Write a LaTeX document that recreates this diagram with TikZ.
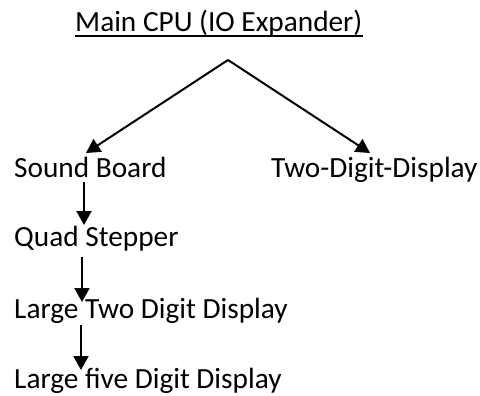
\documentclass[tikz,border=0pt]{standalone}
\usepackage{fontspec}
\setmainfont{Carlito}
\usetikzlibrary{arrows.meta,calc}
\begin{document}
\begin{tikzpicture}[x=1pt,y=-1pt,
  lbl/.style={anchor=base west,inner sep=0pt,font=\fontsize{29.3}{34}\selectfont},
  arr/.style={line width=2pt,-{Triangle[width=15pt,length=14pt]}}]
\useasboundingbox (0,0) rectangle (480,396);
\node[lbl] (title) at (75,32) {Main CPU (IO Expander)};
\draw[line width=1.4pt] ($(title.base west)+(0,4)$) -- ($(title.base east)+(0,4)$);
\node[lbl] (sb) at (14,177) {Sound Board};
\node[lbl] (tdd) at (271,177) {Two-Digit-Display};
\node[lbl] (qs) at (14,246) {Quad Stepper};
\node[lbl] (ltd) at (14,318) {Large Two Digit Display};
\node[lbl] (lfd) at (14,388) {Large five Digit Display};
\coordinate (apex) at (228,60);
\draw[arr] (apex) -- ($(sb.base west)+(72,-24)$);
\draw[arr] (apex) -- ($(tdd.base west)+(99,-24)$);
\draw[arr] ($(sb.base west)+(70,5)$) -- ($(qs.base west)+(70,-21)$);
\draw[arr] ($(qs.base west)+(68,11)$) -- ($(ltd.base west)+(68,-16)$);
\draw[arr] ($(ltd.base west)+(67,7)$) -- ($(lfd.base west)+(67,-18)$);
\end{tikzpicture}
\end{document}
